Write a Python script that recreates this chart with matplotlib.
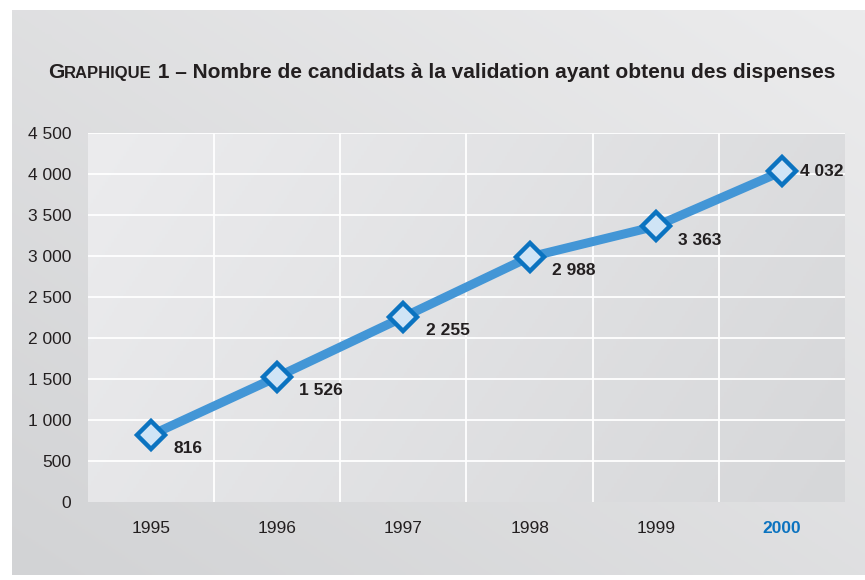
import numpy as np
import matplotlib
matplotlib.use("Agg")
import matplotlib.pyplot as plt
from matplotlib.colors import LinearSegmentedColormap

years = ["1995", "1996", "1997", "1998", "1999", "2000"]
values = [816, 1526, 2255, 2988, 3363, 4032]
labels = ["816", "1 526", "2 255", "2 988", "3 363", "4 032"]
yticks = [0, 500, 1000, 1500, 2000, 2500, 3000, 3500, 4000, 4500]
yticklabels = ["0", "500", "1 000", "1 500", "2 000", "2 500", "3 000", "3 500", "4 000", "4 500"]

W, H = 865, 580
fig = plt.figure(figsize=(W / 100, H / 100), dpi=100)
fig.patch.set_facecolor("white")

# outer grey panel with gradient
bg = fig.add_axes([12 / W, 5 / H, (W - 12) / W, (H - 15) / H])
bg.set_axis_off()
gx = np.linspace(0, 1, 256)
gy = np.linspace(0, 1, 256)
GX, GY = np.meshgrid(gx, gy)
grad = 0.5 * GX + 0.5 * GY
cmap_bg = LinearSegmentedColormap.from_list("bg", ["#d2d3d5", "#ececed"])
bg.imshow(grad, cmap=cmap_bg, aspect="auto", extent=[0, 1, 0, 1], origin="lower")
bg.set_xlim(0, 1)
bg.set_ylim(0, 1)

# plot area
ax = fig.add_axes([88 / W, (H - 502) / H, 757 / W, 369 / H])
x = np.arange(len(years))
ax.set_xlim(-0.5, len(years) - 0.5)
ax.set_ylim(0, 4500)
cmap_ax = LinearSegmentedColormap.from_list("ax", ["#ececee", "#d6d7d9"])
ag = 0.75 * GX + 0.25 * (1 - GY)
ax.imshow(ag, cmap=cmap_ax, aspect="auto", extent=[-0.5, len(years) - 0.5, 0, 4500],
          origin="lower", zorder=0)
for s in ax.spines.values():
    s.set_visible(False)
for v in yticks[1:]:
    ax.axhline(v, color="white", lw=1.3, zorder=1)
for b in np.arange(0.5, len(years) - 1, 1):
    ax.axvline(b, color="white", lw=1.3, zorder=1)

ax.plot(x, values, color="#4396d6", lw=6.5, zorder=3, solid_capstyle="butt")
ax.plot(x, values, linestyle="none", marker="D", markersize=14, markeredgewidth=3.2,
        markeredgecolor="#0b73c0", markerfacecolor="#cfe4f6", zorder=4)

for i, (xv, yv, lab) in enumerate(zip(x, values, labels)):
    if i == len(x) - 1:
        ax.annotate(lab, (xv, yv), xytext=(13, 0), textcoords="offset points",
                    ha="left", va="center", fontsize=12.5, fontweight="bold",
                    color="#231f20", family="Liberation Sans", zorder=5,
                    annotation_clip=False)
    else:
        ax.annotate(lab, (xv, yv), xytext=(16, -10), textcoords="offset points",
                    ha="left", va="center", fontsize=12.5, fontweight="bold",
                    color="#231f20", family="Liberation Sans", zorder=5)

ax.set_xticks(x)
ax.set_xticklabels(years)
ax.set_yticks(yticks)
ax.set_yticklabels(yticklabels)
ax.tick_params(axis="both", length=0, labelsize=12.5, colors="#231f20")
ax.tick_params(axis="x", pad=14)
ax.tick_params(axis="y", pad=12)
for t in ax.get_xticklabels() + ax.get_yticklabels():
    t.set_family("Liberation Sans")
last = ax.get_xticklabels()[-1]
last.set_color("#0b73c0")
last.set_fontweight("bold")

# title with small caps
base = (H - 78) / H
t1 = fig.text(48 / W, base, "G", fontsize=15, fontweight="bold",
              family="Liberation Sans", color="#231f20", va="baseline")
t2 = fig.text(0, 0, "RAPHIQUE", fontsize=12, fontweight="bold",
              family="Liberation Sans", color="#231f20", va="baseline")
t3 = fig.text(0, 0, " 1 – Nombre de candidats à la validation ayant obtenu des dispenses",
              fontsize=15, fontweight="bold", family="Liberation Sans",
              color="#231f20", va="baseline")
fig.canvas.draw()
r = fig.canvas.get_renderer()
bb1 = t1.get_window_extent(r)
t2.set_position((bb1.x1 / W, base))
fig.canvas.draw()
bb2 = t2.get_window_extent(r)
t3.set_position((bb2.x1 / W, base))

fig.savefig("out.png", dpi=100, facecolor="white")
